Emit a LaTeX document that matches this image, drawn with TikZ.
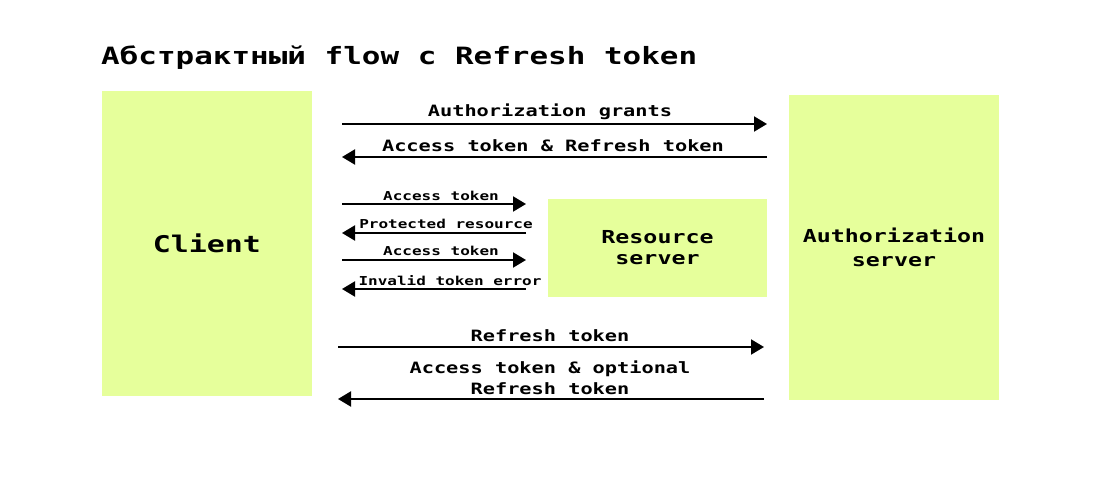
\documentclass[tikz,border=0pt]{standalone}
\usepackage{fontspec}
\setmainfont{DejaVu Sans Mono}[FakeStretch=1.3]
\usetikzlibrary{arrows.meta}
\definecolor{boxfill}{HTML}{E6FF9B}
\tikzset{
  box/.style={fill=boxfill,draw=none,inner sep=0pt,font=\bfseries,align=center},
  msg/.style={draw=black,line width=2pt,-{Triangle[length=13pt,width=15pt]}},
  lbl/.style={inner sep=0pt,font=\fontsize{15.6}{21}\selectfont\bfseries,align=center},
  slbl/.style={inner sep=0pt,font=\fontsize{12.3}{15}\selectfont\bfseries},
}
\begin{document}
\begin{tikzpicture}[x=1pt,y=-1pt]
\useasboundingbox (0,0) rectangle (1100,500);
\node[anchor=west,inner sep=0pt,font=\fontsize{23.8}{28}\selectfont\bfseries] (title) at (101,58) {Абстрактный flow с Refresh token};
\node[box,minimum width=210pt,minimum height=305pt,font=\fontsize{23}{28}\selectfont\bfseries] (client) at (207,243.5) {Client};
\node[box,minimum width=210pt,minimum height=305pt,font=\fontsize{17.9}{24}\selectfont\bfseries] (auth) at (894,247.5) {Authorization\\server};
\node[box,minimum width=219pt,minimum height=98pt,font=\fontsize{17.9}{21}\selectfont\bfseries] (res) at (657.5,248) {Resource\\server};
% arrow end coordinates
\coordinate (a1s) at (342,124); \coordinate (a1e) at (767,124);
\coordinate (a2s) at (767,157); \coordinate (a2e) at (342,157);
\coordinate (a3s) at (342,204); \coordinate (a3e) at (526,204);
\coordinate (a4s) at (526,233); \coordinate (a4e) at (342,233);
\coordinate (a5s) at (342,260); \coordinate (a5e) at (526,260);
\coordinate (a6s) at (526,289); \coordinate (a6e) at (342,289);
\coordinate (a7s) at (338,347); \coordinate (a7e) at (764,347);
\coordinate (a8s) at (764,399); \coordinate (a8e) at (338,399);
\draw[msg] (a1s) -- (a1e);
\draw[msg] (a2s) -- (a2e);
\draw[msg] (a3s) -- (a3e);
\draw[msg] (a4s) -- (a4e);
\draw[msg] (a5s) -- (a5e);
\draw[msg] (a6s) -- (a6e);
\draw[msg] (a7s) -- (a7e);
\draw[msg] (a8s) -- (a8e);
\node[lbl] (l1) at (550,112) {Authorization grants};
\node[lbl] (l2) at (553,146) {Access token \& Refresh token};
\node[slbl] (l3) at (441,196) {Access token};
\node[slbl] (l4) at (446,224) {Protected resource};
\node[slbl] (l5) at (441,251) {Access token};
\node[slbl] (l6) at (450,281) {Invalid token error};
\node[lbl] (l7) at (550,336) {Refresh token};
\node[lbl] (l8) at (550,378) {Access token \& optional\\Refresh token};
\end{tikzpicture}
\end{document}
